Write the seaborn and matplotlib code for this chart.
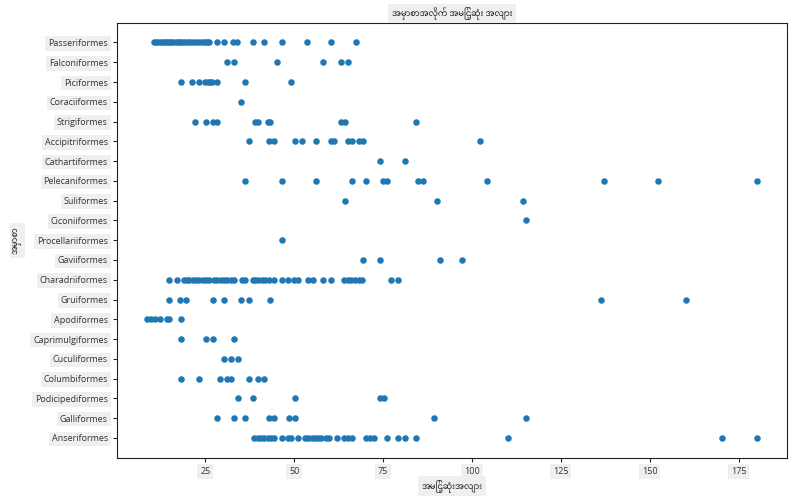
import pandas as pd
import matplotlib
matplotlib.use("Agg")
import matplotlib.pyplot as plt
import seaborn as sns

# ==========================
# ငှက်အမျိုးအစား (Order) အလိုက် အမြင့်ဆုံးအလျား
# ==========================
# y ဝင်ရိုး: အောက်ဆုံးမှ အပေါ်သို့
orders = [
    "Anseriformes", "Galliformes", "Podicipediformes", "Columbiformes",
    "Cuculiformes", "Caprimulgiformes", "Apodiformes", "Gruiformes",
    "Charadriiformes", "Gaviiformes", "Procellariiformes", "Ciconiiformes",
    "Suliformes", "Pelecaniformes", "Cathartiformes", "Accipitriformes",
    "Strigiformes", "Coraciiformes", "Piciformes", "Falconiformes",
    "Passeriformes",
]

anseriformes = [38.7, 39.7, 40.6, 41.6, 42.5, 43.5, 44.4, 46.5, 48.1, 49.0, 51.1,
                53.0, 54.0, 54.9, 55.8, 56.7, 57.5, 59.0, 59.8, 62.1, 64.0, 65.1,
                66.3, 70.1, 71.2, 72.3, 76.0, 79.2, 81.1, 84.2, 110.0, 170.2, 180.1]
galliformes = [28.2, 33.0, 36.1, 43.0, 44.3, 48.5, 50.1, 89.3, 115.1]
podicipediformes = [34.1, 38.3, 50.1, 74.0, 75.1]
columbiformes = [18.1, 23.2, 29.1, 31.0, 32.1, 37.2, 39.9, 41.4]
cuculiformes = [30.2, 32.1, 34.1]
caprimulgiformes = [18.1, 25.1, 27.1, 33.0]
apodiformes = [8.7, 9.6, 10.9, 12.2, 14.1, 14.9, 18.1]
gruiformes = [14.9, 17.9, 19.5, 27.1, 30.2, 35.0, 37.2, 43.1, 136.2, 160.1]
charadriiformes = [14.9, 17.0, 19.0, 19.8, 20.4, 21.4, 22.3, 23.2, 24.2, 25.1, 26.0,
                   27.4, 28.4, 29.3, 30.3, 31.2, 32.2, 33.1, 35.2, 36.1, 38.3, 39.0,
                   39.9, 40.9, 41.8, 43.0, 44.3, 46.5, 48.1, 50.0, 51.1, 54.0, 55.2,
                   58.0, 60.3, 64.0, 65.0, 65.9, 67.0, 68.1, 69.0, 77.1, 79.2]
gaviiformes = [69.3, 74.1, 91.1, 97.2]
procellariiformes = [46.5]
ciconiiformes = [115.1]
suliformes = [64.2, 90.1, 114.3]
pelecaniformes = [36.1, 46.5, 56.1, 66.2, 70.1, 75.0, 76.0, 84.9, 86.1,
                  104.1, 137.0, 152.2, 180.1]
cathartiformes = [74.1, 81.1]
accipitriformes = [37.2, 43.0, 44.3, 50.1, 52.1, 56.1, 60.3, 61.2, 65.0, 66.3,
                   68.1, 69.3, 102.2]
strigiformes = [22.0, 25.1, 27.1, 28.2, 39.0, 39.9, 42.5, 43.2, 63.1, 64.2, 84.2]
coraciiformes = [35.0]
piciformes = [18.1, 21.2, 23.2, 24.9, 25.6, 26.2, 27.0, 28.2, 36.1, 49.0]
falconiformes = [31.0, 33.0, 45.1, 58.0, 63.1, 65.0]
passeriformes = [10.6, 11.2, 11.8, 12.4, 13.0, 13.6, 14.2, 14.8, 15.4, 16.0, 16.6,
                 17.2, 17.8, 18.5, 19.2, 20.0, 20.8, 21.6, 22.4, 23.2, 24.0, 24.8,
                 25.4, 26.1, 28.2, 30.3, 32.9, 34.0, 38.3, 41.4, 46.5, 53.5, 60.3, 67.3]

lengths = [anseriformes, galliformes, podicipediformes, columbiformes,
           cuculiformes, caprimulgiformes, apodiformes, gruiformes,
           charadriiformes, gaviiformes, procellariiformes, ciconiiformes,
           suliformes, pelecaniformes, cathartiformes, accipitriformes,
           strigiformes, coraciiformes, piciformes, falconiformes, passeriformes]

rows = []
for name, vals in zip(orders, lengths):
    for v in vals:
        rows.append({"Order": name, "MaxLength": v})
df = pd.DataFrame(rows)

sns.set_style("ticks")
plt.rcParams["font.family"] = ["Open Sans", "Noto Sans Myanmar", "Padauk", "Myanmar Text", "DejaVu Sans"]

fig, ax = plt.subplots(figsize=(7.93, 4.96), dpi=100)
fig.subplots_adjust(left=0.1475, right=0.9928, top=0.9542, bottom=0.0772)

sns.scatterplot(data=df, x="MaxLength", y="Order", color="#1f77b4",
                s=22, linewidth=0, ax=ax)
# seaborn က ပထမအမျိုးအစားကို အပေါ်ဆုံးထားတယ် -> ပြန်လှန်
ax.invert_yaxis()

box = dict(facecolor="#efefef", edgecolor="none", pad=2.5)
ax.set_title("အမှာစာအလိုက် အမြင့်ဆုံး အလျား", fontsize=6, pad=5, bbox=box)
ax.set_xlabel("အမြင့်ဆုံးအလျား", fontsize=6, labelpad=3, bbox=box)
ax.set_ylabel("အမှာစာ", fontsize=6, labelpad=8, bbox=box)

ax.set_xticks([25, 50, 75, 100, 125, 150, 175])
ax.tick_params(axis="both", labelsize=6.5, length=3, labelcolor="#333333")
for lbl in ax.get_xticklabels() + ax.get_yticklabels():
    lbl.set_bbox(dict(facecolor="#efefef", edgecolor="none", pad=2))

for side in ["top", "right", "left", "bottom"]:
    ax.spines[side].set_visible(True)
    ax.spines[side].set_color("#222222")

plt.savefig("out.png", dpi=100)
